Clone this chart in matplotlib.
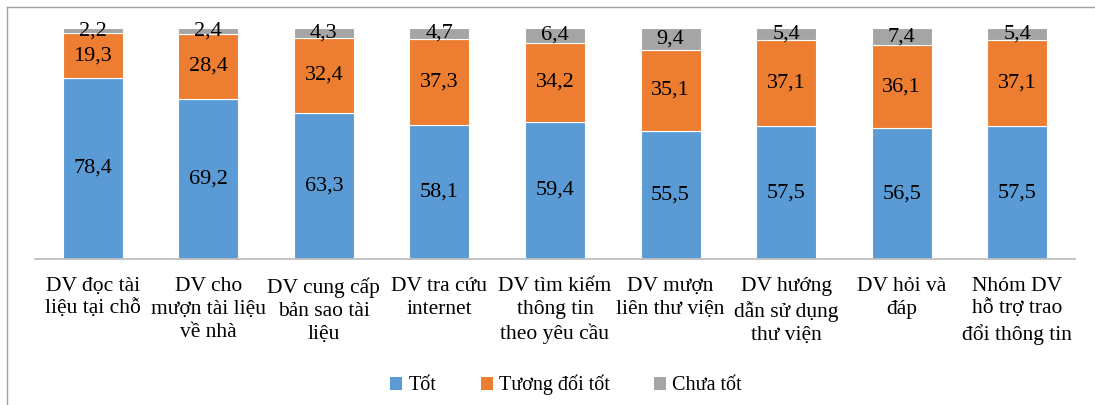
import numpy as np
import matplotlib
matplotlib.use('Agg')
import matplotlib.pyplot as plt
from matplotlib.lines import Line2D
from matplotlib.patches import Patch

categories = [
    'DV đọc tài\nliệu tại chỗ',
    'DV cho\nmượn tài liệu\nvề nhà',
    'DV cung cấp\nbản sao tài\nliệu',
    'DV tra cứu\ninternet',
    'DV tìm kiếm\nthông tin\ntheo yêu cầu',
    'DV mượn\nliên thư viện',
    'DV hướng\ndẫn sử dụng\nthư viện',
    'DV hỏi và\nđáp',
    'Nhóm DV\nhỗ trợ trao\nđổi thông tin',
]
tot = [78.4, 69.2, 63.3, 58.1, 59.4, 55.5, 57.5, 56.5, 57.5]
tuong_doi_tot = [19.3, 28.4, 32.4, 37.3, 34.2, 35.1, 37.1, 36.1, 37.1]
chua_tot = [2.2, 2.4, 4.3, 4.7, 6.4, 9.4, 5.4, 7.4, 5.4]

series_names = ['Tốt', 'Tương đối tốt', 'Chưa tốt']
colors = ['#5B9BD5', '#ED7D31', '#A5A5A5']

plt.rcParams['font.family'] = ['Liberation Serif', 'DejaVu Serif']

W, H = 1095, 405
fig = plt.figure(figsize=(W / 100, H / 100), dpi=100)
ax = fig.add_axes([35 / W, (H - 259) / H, (1075 - 35) / W, (259 - 28) / H])

x = np.arange(len(categories))
bottom = np.zeros(len(categories))
for vals, name, col in zip([tot, tuong_doi_tot, chua_tot], series_names, colors):
    bars = ax.bar(x, vals, width=0.52, bottom=bottom, color=col,
                  edgecolor='white', linewidth=0.8, label=name)
    labels = [f'{v:.1f}'.replace('.', ',') for v in vals]
    ax.bar_label(bars, labels=labels, label_type='center', fontsize=16, color='black')
    bottom += np.array(vals)

ax.set_xlim(-0.5, len(categories) - 0.5)
ax.set_ylim(0, 100)
ax.set_xticks(x)
ax.set_xticklabels(categories, fontsize=15.5, linespacing=1.3)
ax.tick_params(axis='x', length=0, pad=13)
ax.set_yticks([])
for s in ['top', 'right', 'left']:
    ax.spines[s].set_visible(False)
ax.spines['bottom'].set_color('#BFBFBF')
ax.spines['bottom'].set_linewidth(1.3)

handles = [Patch(facecolor=c, edgecolor='none') for c in colors]
fig.legend(handles, series_names, loc='center', bbox_to_anchor=(566 / W, (H - 385) / H),
           ncol=3, frameon=False, fontsize=14.5, handlelength=0.6, handleheight=0.6,
           handletextpad=0.3, columnspacing=2.2)

# outer border (cropped at right and bottom)
fig.add_artist(Line2D([7 / W, 1], [1 - 7 / H, 1 - 7 / H], transform=fig.transFigure,
                      color='#A0A0A0', linewidth=1))
fig.add_artist(Line2D([7 / W, 7 / W], [0, 1 - 7 / H], transform=fig.transFigure,
                      color='#A0A0A0', linewidth=1))

fig.savefig('out.png', dpi=100)
